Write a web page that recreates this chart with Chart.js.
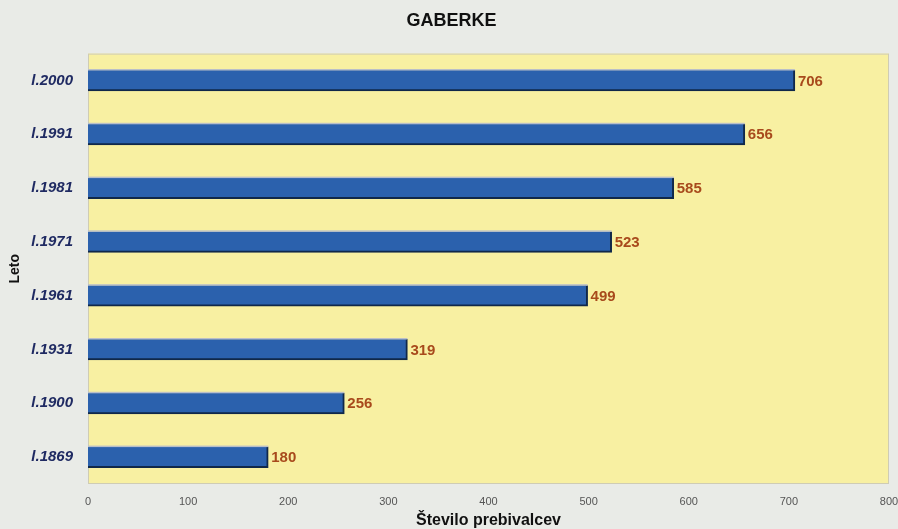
<!DOCTYPE html>
<html>
<head>
<meta charset="utf-8">
<script src="https://cdn.jsdelivr.net/npm/chart.js@4"></script>
<style>
  html, body { margin: 0; padding: 0; background: #e9ebe7; }
  #wrap { width: 898px; height: 529px; }
</style>
</head>
<body>
<div id="wrap"><canvas id="gaberke" width="898" height="529"></canvas></div>
<script>
const years = ['l.2000', 'l.1991', 'l.1981', 'l.1971', 'l.1961', 'l.1931', 'l.1900', 'l.1869'];
const population = [706, 656, 585, 523, 499, 319, 256, 180];
const xTicks = [0, 100, 200, 300, 400, 500, 600, 700, 800];

const FONT = '"Liberation Sans", Arial, sans-serif';

// yellow plot area
const plotBg = {
  id: 'plotBg',
  beforeDraw(chart) {
    const { ctx, chartArea: a } = chart;
    ctx.save();
    ctx.fillStyle = '#f8f0a2';
    ctx.fillRect(a.left, a.top, a.right - a.left, a.bottom - a.top);
    ctx.strokeStyle = '#cfccb4';
    ctx.lineWidth = 1;
    ctx.strokeRect(a.left + 0.5, a.top + 0.5, a.right - a.left - 1, a.bottom - a.top - 1);
    ctx.restore();
  }
};

// light top edge on bars + numbers at the end of each bar
const valueLabels = {
  id: 'valueLabels',
  afterDatasetsDraw(chart) {
    const { ctx } = chart;
    const meta = chart.getDatasetMeta(0);
    ctx.save();
    meta.data.forEach(bar => {
      const top = bar.y - bar.height / 2;
      ctx.fillStyle = '#b9bfc8';
      ctx.fillRect(bar.base, top - 1, bar.x - bar.base, 1.5);
    });
    ctx.font = 'bold 15px ' + FONT;
    ctx.fillStyle = '#a84a1c';
    ctx.textBaseline = 'middle';
    meta.data.forEach((bar, i) => {
      ctx.fillText(population[i], bar.x + 3, bar.y + 1);
    });
    ctx.restore();
  }
};

const ctx = document.getElementById('gaberke').getContext('2d');
new Chart(ctx, {
  type: 'bar',
  data: {
    labels: years,
    datasets: [{
      data: population,
      backgroundColor: '#2b61ad',
      borderColor: '#10284a',
      borderWidth: { top: 0, right: 2, bottom: 2, left: 0 },
      borderSkipped: false,
      barThickness: 21
    }]
  },
  options: {
    indexAxis: 'y',
    responsive: false,
    animation: false,
    layout: { padding: { left: 6, right: 1, top: 3, bottom: 0 } },
    plugins: {
      legend: { display: false },
      tooltip: { enabled: false },
      title: {
        display: true,
        text: 'GABERKE',
        color: '#111',
        font: { family: FONT, size: 18, weight: 'bold' },
        padding: { top: 7, bottom: 22 }
      }
    },
    scales: {
      x: {
        min: 0,
        max: 800,
        afterBuildTicks(axis) { axis.ticks = xTicks.map(v => ({ value: v })); },
        grid: { display: false, drawTicks: false },
        border: { display: false },
        ticks: {
          color: '#555',
          padding: 11,
          maxRotation: 0,
          font: { family: FONT, size: 11 }
        },
        title: {
          display: true,
          text: 'Število prebivalcev',
          color: '#111',
          padding: { top: 0, bottom: 0 },
          font: { family: FONT, size: 16, weight: 'bold', lineHeight: 1 }
        },
        afterFit(axis) {
          axis.height = 45;
          axis.paddingLeft = 0;
          axis.paddingRight = 9;
        }
      },
      y: {
        grid: { display: false, drawTicks: false },
        border: { display: false },
        ticks: {
          color: '#1f2a62',
          padding: 15,
          font: { family: FONT, size: 15, weight: 'bold', style: 'italic' }
        },
        title: {
          display: true,
          text: 'Leto',
          color: '#111',
          padding: { top: 1, bottom: 0 },
          font: { family: FONT, size: 14, weight: 'bold' }
        },
        afterFit(axis) { axis.width = 82; }
      }
    }
  },
  plugins: [plotBg, valueLabels]
});
</script>
</body>
</html>
